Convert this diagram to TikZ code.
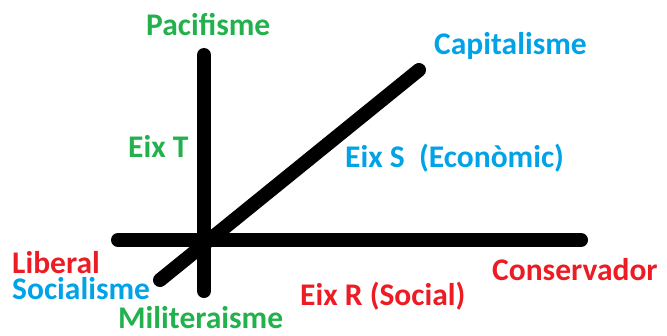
\documentclass[tikz,border=0pt]{standalone}
\usepackage{fontspec}
\setmainfont{Carlito}
\definecolor{pgreen}{RGB}{34,177,76}
\definecolor{pblue}{RGB}{0,162,232}
\definecolor{pred}{RGB}{237,28,36}
\begin{document}
\begin{tikzpicture}[x=1pt,y=-1pt,
  axis/.style={line width=14pt,line cap=round,black},
  lbl/.style={anchor=base west,inner sep=0pt,font=\fontsize{31.5}{36}\selectfont\bfseries},
  lg/.style={lbl,text=pgreen},
  lb/.style={lbl,text=pblue},
  lr/.style={lbl,text=pred}]
\useasboundingbox (0,0) rectangle (667,335);
\coordinate (vt) at (204,55);
\coordinate (vb) at (204,291);
\coordinate (hl) at (118,240);
\coordinate (hr) at (581,240);
\coordinate (dl) at (160,280);
\coordinate (dr) at (419,70);
\draw[axis] (vt) -- (vb);
\draw[axis] (hl) -- (hr);
\draw[axis] (dl) -- (dr);
\node[lg] (pac) at (146,35) {Pacifisme};
\node[lb] (cap) at (434,54) {Capitalisme};
\node[lg] (eixt) at (128,157) {Eix T};
\node[lb] (eixs) at (345,167) {Eix S\ \ (Econòmic)};
\node[lr] (lib) at (12,273) {Liberal};
\node[lb,text height=18pt] (soc) at (12,299) {Socialisme};
\node[lr] (con) at (492,280) {Conservador};
\node[lr] (eixr) at (300,305) {Eix R (Social)};
\node[lg] (mil) at (118,328) {Militeraisme};
\end{tikzpicture}
\end{document}
